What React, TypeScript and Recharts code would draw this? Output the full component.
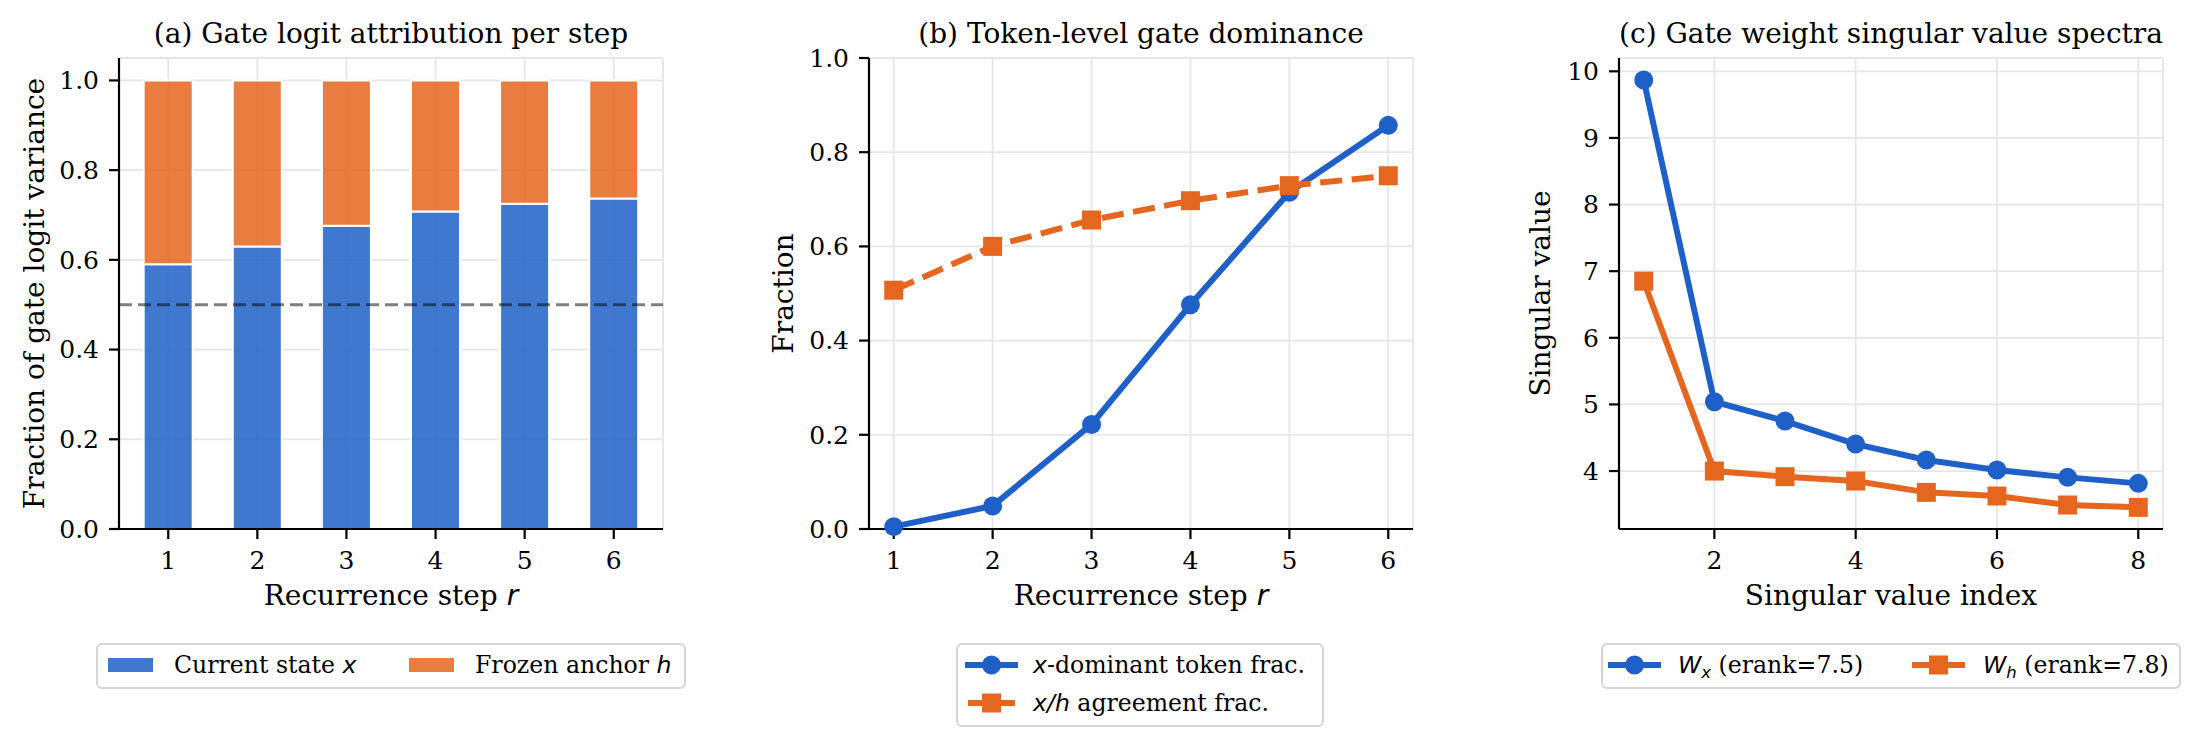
import React from 'react'
import {
  BarChart,
  Bar,
  LineChart,
  Line,
  XAxis,
  YAxis,
  CartesianGrid,
  ReferenceLine,
} from 'recharts'

// (a) gate logit attribution
const steps = [1, 2, 3, 4, 5, 6]
const currentState = [0.59, 0.63, 0.676, 0.708, 0.725, 0.737]
const frozenAnchor = [0.41, 0.37, 0.324, 0.292, 0.275, 0.263]

// (b) token-level dominance
const xDominant = [0.005, 0.049, 0.222, 0.476, 0.715, 0.857]
const agreement = [0.507, 0.6, 0.656, 0.697, 0.729, 0.75]

// (c) singular value spectra
const svIndex = [1, 2, 3, 4, 5, 6, 7, 8]
const wxValues = [9.87, 5.04, 4.75, 4.405, 4.165, 4.015, 3.905, 3.815]
const whValues = [6.85, 4.0, 3.915, 3.85, 3.68, 3.625, 3.49, 3.455]

const fracTicks = [0, 0.2, 0.4, 0.6, 0.8, 1.0]
const svYTicks = [4, 5, 6, 7, 8, 9, 10]
const svXTicks = [2, 4, 6, 8]

const BLUE = '#1f60c8'
const ORANGE = '#e5661f'
const SERIF = "'DejaVu Serif', serif"
const SANS = "'DejaVu Sans', sans-serif"

const barData = steps.map((s, i) => ({ step: s, current: currentState[i], frozen: frozenAnchor[i] }))
const domData = steps.map((s, i) => ({ step: s, xdom: xDominant[i], agree: agreement[i] }))
const svData = svIndex.map((s, i) => ({ idx: s, wx: wxValues[i], wh: whValues[i] }))

const W = 700
const H = 746
const margin = { top: 58, right: 37, bottom: 137, left: 0 }
const tick = { fontSize: 25, fill: '#000', fontFamily: SERIF }
const axisLine = { stroke: '#000', strokeWidth: 2.2 }
const grid = <CartesianGrid stroke="#e6e6e6" strokeWidth={1.8} />

const circleDot = (color: string) => (props: any) => {
  const { cx, cy, index } = props
  if (cx == null || cy == null) return <g key={index} />
  return <circle key={index} cx={cx} cy={cy} r={9.5} fill={color} />
}
const squareDot = (color: string) => (props: any) => {
  const { cx, cy, index } = props
  if (cx == null || cy == null) return <g key={index} />
  return <rect key={index} x={cx - 9.5} y={cy - 9.5} width={19} height={19} fill={color} />
}

const Mi = ({ children }: { children: React.ReactNode }) => (
  <tspan fontFamily={SANS} fontStyle="italic">{children}</tspan>
)

function Overlay() {
  const t = { fontFamily: SERIF, fill: '#000' }
  const lg = { fontFamily: SERIF, fontSize: 23.6, fill: '#000' }
  return (
    <svg
      width={2200}
      height={746}
      style={{ position: 'absolute', left: 0, top: 0, pointerEvents: 'none' }}
    >
      {/* titles */}
      <text x={391} y={43} textAnchor="middle" fontSize={28} {...t}>(a) Gate logit attribution per step</text>
      <text x={1141} y={43} textAnchor="middle" fontSize={28} {...t}>(b) Token-level gate dominance</text>
      <text x={1891} y={43} textAnchor="middle" fontSize={28} {...t}>(c) Gate weight singular value spectra</text>

      {/* axis labels */}
      <text x={391} y={605} textAnchor="middle" fontSize={28} {...t}>Recurrence step <Mi>r</Mi></text>
      <text x={1141} y={605} textAnchor="middle" fontSize={28} {...t}>Recurrence step <Mi>r</Mi></text>
      <text x={1891} y={605} textAnchor="middle" fontSize={28} {...t}>Singular value index</text>
      <text x={44} y={293.5} textAnchor="middle" fontSize={28} transform="rotate(-90 44 293.5)" {...t}>Fraction of gate logit variance</text>
      <text x={793} y={293.5} textAnchor="middle" fontSize={28} transform="rotate(-90 793 293.5)" {...t}>Fraction</text>
      <text x={1550} y={293.5} textAnchor="middle" fontSize={28} transform="rotate(-90 1550 293.5)" {...t}>Singular value</text>

      {/* legend (a) */}
      <rect x={97} y={644} width={588} height={44} rx={5} fill="#fff" stroke="#d5d5d5" strokeWidth={2} />
      <rect x={108} y={658} width={45} height={14} fill={BLUE} fillOpacity={0.85} />
      <text x={174} y={673} {...lg}>Current state <Mi>x</Mi></text>
      <rect x={409} y={658} width={45} height={14} fill={ORANGE} fillOpacity={0.85} />
      <text x={475} y={673} {...lg}>Frozen anchor <Mi>h</Mi></text>

      {/* legend (b) */}
      <rect x={957} y={644} width={366} height={82} rx={5} fill="#fff" stroke="#d5d5d5" strokeWidth={2} />
      <line x1={968} y1={665} x2={1015} y2={665} stroke={BLUE} strokeWidth={6} strokeLinecap="square" />
      <circle cx={991.5} cy={665} r={9.5} fill={BLUE} />
      <text x={1033} y={673} {...lg}><Mi>x</Mi>-dominant token frac.</text>
      <line x1={968} y1={703} x2={1015} y2={703} stroke={ORANGE} strokeWidth={6} strokeDasharray="22 9.6" />
      <rect x={982} y={693.5} width={19} height={19} fill={ORANGE} />
      <text x={1033} y={711} {...lg}><Mi>x</Mi><Mi>/h</Mi> agreement frac.</text>

      {/* legend (c) */}
      <rect x={1602} y={644} width={578} height={44} rx={5} fill="#fff" stroke="#d5d5d5" strokeWidth={2} />
      <line x1={1611} y1={665} x2={1658} y2={665} stroke={BLUE} strokeWidth={6} strokeLinecap="square" />
      <circle cx={1634.5} cy={665} r={9.5} fill={BLUE} />
      <text x={1678} y={673} {...lg}>
        <Mi>W</Mi>
        <tspan fontFamily={SANS} fontStyle="italic" fontSize={16.5} dy={5}>x</tspan>
        <tspan dy={-5}> (erank=7.5)</tspan>
      </text>
      <line x1={1915} y1={665} x2={1962} y2={665} stroke={ORANGE} strokeWidth={6} strokeLinecap="square" />
      <rect x={1929} y={655.5} width={19} height={19} fill={ORANGE} />
      <text x={1983} y={673} {...lg}>
        <Mi>W</Mi>
        <tspan fontFamily={SANS} fontStyle="italic" fontSize={16.5} dy={5}>h</tspan>
        <tspan dy={-5}> (erank=7.8)</tspan>
      </text>
    </svg>
  )
}

export default function App() {
  return (
    <div style={{ position: 'absolute', left: 0, top: 0, width: 2200, height: 746, background: '#fff' }}>
      <div style={{ position: 'absolute', left: 0, top: 0 }}>
        <BarChart width={W} height={H} data={barData} margin={margin}>
          {grid}
          <XAxis
            dataKey="step"
            type="number"
            domain={[0.4475, 6.5525]}
            ticks={steps}
            tick={tick}
            axisLine={axisLine}
            tickLine={axisLine}
            tickSize={10}
            tickMargin={12}
            height={80}
            allowDataOverflow
          />
          <YAxis
            type="number"
            domain={[0, 1.05]}
            ticks={fracTicks}
            tickFormatter={(v: number) => v.toFixed(1)}
            tick={tick}
            axisLine={axisLine}
            tickLine={axisLine}
            tickSize={10}
            tickMargin={10}
            width={119}
            allowDataOverflow
          />
          <Bar dataKey="current" stackId="s" barSize={49} fill={BLUE} fillOpacity={0.85} stroke="#fff" strokeWidth={2} isAnimationActive={false} />
          <Bar dataKey="frozen" stackId="s" barSize={49} fill={ORANGE} fillOpacity={0.85} stroke="#fff" strokeWidth={2} isAnimationActive={false} />
          <ReferenceLine y={0.5} stroke="#000" strokeOpacity={0.5} strokeWidth={3} strokeDasharray="13 6" />
        </BarChart>
      </div>

      <div style={{ position: 'absolute', left: 750, top: 0 }}>
        <LineChart width={W} height={H} data={domData} margin={margin}>
          {grid}
          <XAxis
            dataKey="step"
            type="number"
            domain={[0.75, 6.25]}
            ticks={steps}
            tick={tick}
            axisLine={axisLine}
            tickLine={axisLine}
            tickSize={10}
            tickMargin={12}
            height={80}
          />
          <YAxis
            type="number"
            domain={[0, 1]}
            ticks={fracTicks}
            tickFormatter={(v: number) => v.toFixed(1)}
            tick={tick}
            axisLine={axisLine}
            tickLine={axisLine}
            tickSize={10}
            tickMargin={10}
            width={119}
          />
          <Line dataKey="xdom" type="linear" stroke={BLUE} strokeWidth={6} dot={circleDot(BLUE)} activeDot={false} isAnimationActive={false} />
          <Line dataKey="agree" type="linear" stroke={ORANGE} strokeWidth={6} strokeDasharray="22 9.6" dot={squareDot(ORANGE)} activeDot={false} isAnimationActive={false} />
        </LineChart>
      </div>

      <div style={{ position: 'absolute', left: 1500, top: 0 }}>
        <LineChart width={W} height={H} data={svData} margin={margin}>
          {grid}
          <XAxis
            dataKey="idx"
            type="number"
            domain={[0.65, 8.35]}
            ticks={svXTicks}
            tick={tick}
            axisLine={axisLine}
            tickLine={axisLine}
            tickSize={10}
            tickMargin={12}
            height={80}
          />
          <YAxis
            type="number"
            domain={[3.13, 10.2]}
            ticks={svYTicks}
            tick={tick}
            axisLine={axisLine}
            tickLine={axisLine}
            tickSize={10}
            tickMargin={10}
            width={119}
            allowDataOverflow
          />
          <Line dataKey="wx" type="linear" stroke={BLUE} strokeWidth={6} dot={circleDot(BLUE)} activeDot={false} isAnimationActive={false} />
          <Line dataKey="wh" type="linear" stroke={ORANGE} strokeWidth={6} dot={squareDot(ORANGE)} activeDot={false} isAnimationActive={false} />
        </LineChart>
      </div>

      <Overlay />
    </div>
  )
}
